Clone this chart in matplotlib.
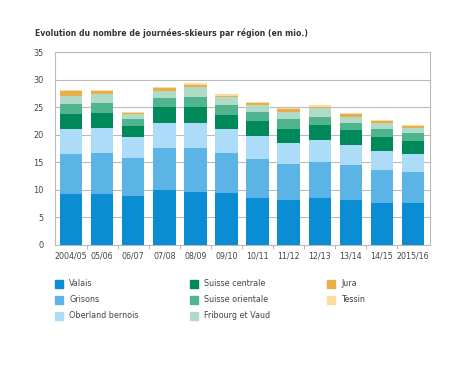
import matplotlib
matplotlib.use("Agg")
import matplotlib.pyplot as plt
from matplotlib.patches import Rectangle
import numpy as np

# donnees (mio. de journees-skieurs)
saisons = ["2004/05", "05/06", "06/07", "07/08", "08/09", "09/10",
           "10/11", "11/12", "12/13", "13/14", "14/15", "2015/16"]

valais = [9.2, 9.2, 8.8, 9.9, 9.7, 9.4, 8.5, 8.1, 8.5, 8.1, 7.7, 7.6]
grisons = [7.3, 7.5, 7.0, 7.7, 7.9, 7.3, 7.1, 6.6, 6.6, 6.4, 5.9, 5.7]
oberland = [4.5, 4.5, 3.8, 4.5, 4.5, 4.3, 4.1, 3.8, 3.9, 3.6, 3.5, 3.2]
suisse_centrale = [2.7, 2.7, 1.9, 2.9, 2.9, 2.5, 2.7, 2.5, 2.7, 2.7, 2.5, 2.4]
suisse_orientale = [1.8, 1.8, 1.3, 1.6, 1.9, 1.8, 1.7, 1.8, 1.6, 1.3, 1.4, 1.4]
fribourg_vaud = [1.6, 1.6, 1.0, 1.4, 1.7, 1.5, 1.2, 1.3, 1.5, 1.2, 1.1, 0.9]
jura = [0.8, 0.7, 0.2, 0.4, 0.4, 0.3, 0.4, 0.5, 0.3, 0.4, 0.3, 0.3]
tessin = [0.2, 0.1, 0.2, 0.3, 0.3, 0.2, 0.3, 0.2, 0.2, 0.2, 0.2, 0.2]

regions = ["Valais", "Grisons", "Oberland bernois", "Suisse centrale",
           "Suisse orientale", "Fribourg et Vaud", "Jura", "Tessin"]
series = [valais, grisons, oberland, suisse_centrale, suisse_orientale,
          fribourg_vaud, jura, tessin]
couleurs = ["#0a8dd3", "#5cb3e6", "#acdcf7", "#00895b", "#50b48e",
            "#b0dbc6", "#e8ae4c", "#fcdc9c"]

plt.rcParams["font.family"] = ["DejaVu Sans"]

fig = plt.figure(figsize=(4.63, 3.78), dpi=100)
ax = fig.add_axes([0.1188, 0.3519, 0.8099, 0.5105])

x = np.arange(len(saisons))
bas = np.zeros(len(saisons))
for nom, vals, c in zip(regions, series, couleurs):
    ax.bar(x, vals, width=0.72, bottom=bas, color=c, label=nom, zorder=3)
    bas += np.array(vals)

ax.set_xlim(-0.52, 11.55)
ax.set_ylim(0, 35)
ax.set_yticks(range(0, 36, 5))
ax.yaxis.grid(True, color="#bbbbbb", linewidth=0.8, zorder=0)
ax.set_xticks(x)
ax.set_xticklabels(saisons)
ax.set_xticks(x[:-1] + 0.5, minor=True)
ax.tick_params(axis="x", which="major", length=0, pad=5, labelsize=5.7, colors="#444444")
ax.tick_params(axis="x", which="minor", length=3, color="#aaaaaa", direction="out")
ax.tick_params(axis="y", length=0, pad=8, labelsize=5.9, colors="#444444")
for s in ax.spines.values():
    s.set_color("#bbbbbb")
    s.set_linewidth(0.8)

fig.text(35 / 463, 1 - 33 / 378, "Evolution du nombre de journées-skieurs par région (en mio.)",
         fontsize=5.6, fontweight="bold", color="#333333", va="center")

# legende en trois colonnes
col_x = [55, 190, 327]
row_y = [284, 300, 316]
for i, (nom, c) in enumerate(zip(regions, couleurs)):
    cx = col_x[i // 3]
    cy = row_y[i % 3]
    fig.patches.append(Rectangle((cx / 463, 1 - (cy + 4) / 378), 8 / 463, 8 / 378,
                                 transform=fig.transFigure, color=c, figure=fig))
    fig.text((cx + 14) / 463, 1 - cy / 378, nom, fontsize=5.8, color="#444444", va="center")

fig.savefig("out.png", dpi=100)
